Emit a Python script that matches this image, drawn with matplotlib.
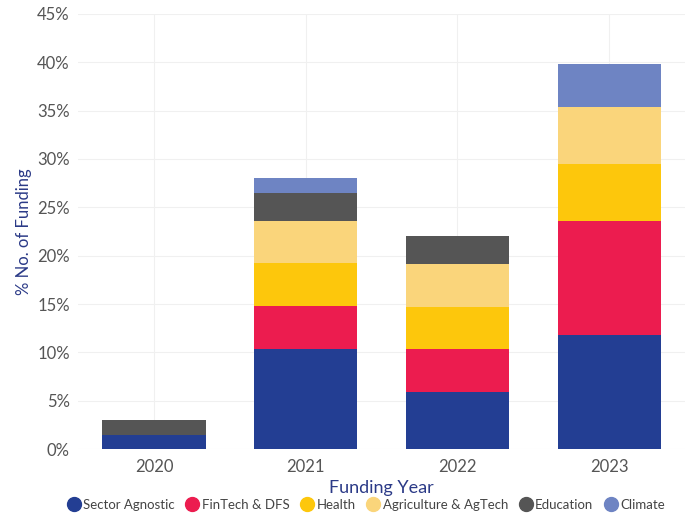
import matplotlib.pyplot as plt
import numpy as np
from matplotlib.ticker import PercentFormatter

plt.rcParams["font.family"] = ["Lato", "DejaVu Sans"]

years = ["2020", "2021", "2022", "2023"]
sectors = ["Sector Agnostic", "FinTech & DFS", "Health", "Agriculture & AgTech", "Education", "Climate"]
sector_agnostic = [1.5, 10.4, 5.9, 11.8]
fintech = [0.0, 4.4, 4.4, 11.8]
health = [0.0, 4.4, 4.4, 5.9]
agriculture = [0.0, 4.4, 4.4, 5.9]
education = [1.5, 2.9, 2.9, 0.0]
climate = [0.0, 1.5, 0.0, 4.4]
colors = ["#233E93", "#EC1C4F", "#FDC70C", "#FAD57B", "#555555", "#6E84C3"]

series = [sector_agnostic, fintech, health, agriculture, education, climate]

fig = plt.figure(figsize=(6.85, 5.15), dpi=100)
ax = fig.add_axes([0.114, 0.128, 0.886, 0.845])

x = np.arange(len(years))
bottom = np.zeros(len(years))
for name, vals, c in zip(sectors, series, colors):
    vals = np.array(vals)
    ax.bar(x, vals, 0.68, bottom=bottom, color=c, label=name, zorder=2)
    bottom += vals

ax.set_xlim(-0.5, 3.5)
ax.set_ylim(0, 45)
ax.set_yticks(np.arange(0, 46, 5))
ax.yaxis.set_major_formatter(PercentFormatter(decimals=0))
ax.set_xticks(x)
ax.set_xticklabels(years)
ax.grid(True, color="#f0f0f0", linewidth=0.8, zorder=0)
for s in ax.spines.values():
    s.set_visible(False)
ax.tick_params(length=0, colors="#555555")
ax.tick_params(axis="y", labelsize=12, pad=6)
ax.tick_params(axis="x", labelsize=12, pad=7)

ax.set_xlabel("Funding Year", fontsize=13, color="#2B3A87", labelpad=4)
ax.set_ylabel("% No. of Funding", fontsize=12, color="#2B3A87", labelpad=4)

handles = [plt.Line2D([], [], marker="o", linestyle="", markersize=10,
                      markerfacecolor=c, markeredgecolor=c) for c in colors]
fig.legend(handles, sectors, loc="center", bbox_to_anchor=(0.535, 0.02),
           ncol=6, frameon=False, fontsize=9.5, handletextpad=0.25,
           handlelength=0.9, columnspacing=0.9, labelcolor="#444444")

plt.savefig("out.png", dpi=100)
